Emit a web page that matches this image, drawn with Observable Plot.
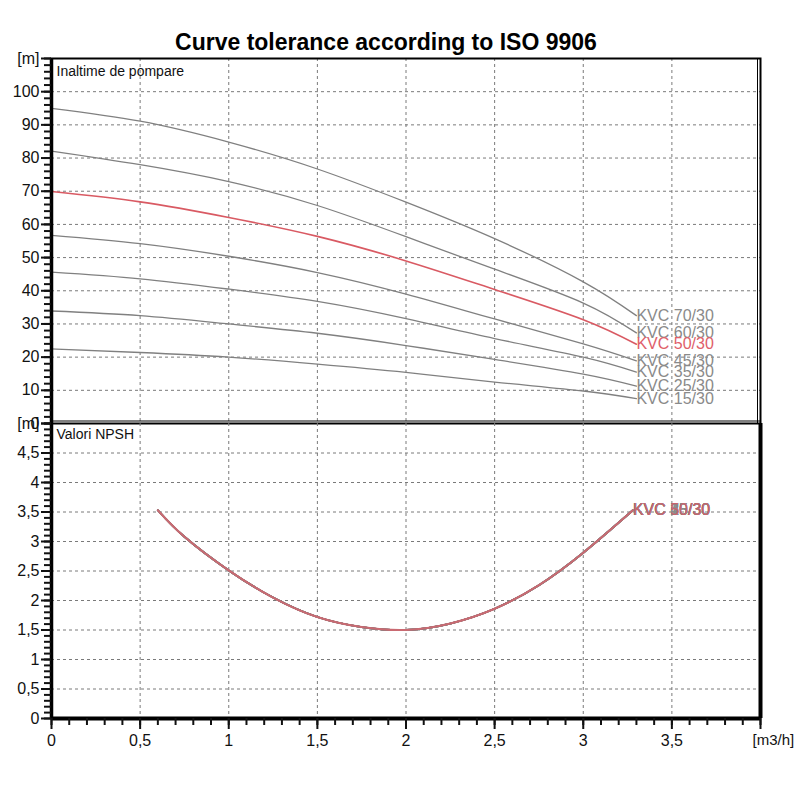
<!DOCTYPE html>
<html>
<head>
<meta charset="utf-8">
<script src="https://cdn.jsdelivr.net/npm/d3@7"></script>
<script src="https://cdn.jsdelivr.net/npm/@observablehq/plot@0.6"></script>
<style>
  body { margin: 0; background: white; }
  #wrap { position: relative; width: 800px; height: 800px; font-family: "Liberation Sans", Arial, sans-serif; }
  #title { position: absolute; top: 29px; left: 0; width: 772px; text-align: center; font-weight: bold; font-size: 23px; color: #000; }
  #top, #bot { position: absolute; left: 0; }
  #top { top: 0; }
  #bot { top: 410px; }
  svg { background: transparent !important; overflow: visible; }
</style>
</head>
<body>
<div id="wrap">
  <div id="title">Curve tolerance according to ISO 9906</div>
  <div id="top"></div>
  <div id="bot"></div>
</div>
<script>
// ---- data ----
const models = ["KVC 70/30", "KVC 60/30", "KVC 50/30", "KVC 45/30", "KVC 35/30", "KVC 25/30", "KVC 15/30"];
const highlight = "KVC 50/30";

const flowHead = [0, 0.5, 1, 1.5, 2, 2.5, 3, 3.3];
const head7030 = [95.0, 91.1, 84.8, 76.7, 66.7, 55.7, 42.7, 32.5];
const head6030 = [82.1, 78.0, 72.9, 65.7, 56.3, 46.5, 36.3, 27.3];
const head5030 = [69.9, 66.8, 62.1, 56.4, 49.0, 40.4, 31.3, 23.9];
const head4530 = [56.7, 54.2, 50.4, 45.5, 39.0, 31.5, 24.0, 18.9];
const head3530 = [45.6, 43.6, 40.5, 36.8, 31.6, 25.6, 20.0, 15.5];
const head2530 = [33.9, 32.5, 30.0, 27.2, 23.5, 19.3, 14.9, 11.3];
const head1530 = [22.5, 21.4, 20.0, 17.9, 15.4, 12.5, 9.8, 7.5];
const heads = [head7030, head6030, head5030, head4530, head3530, head2530, head1530];

const flowNpsh = [0.6, 0.75, 1, 1.25, 1.5, 1.75, 2, 2.25, 2.5, 2.75, 3, 3.28];
const npshValues = [3.53, 3.08, 2.51, 2.05, 1.72, 1.55, 1.50, 1.61, 1.86, 2.26, 2.81, 3.53];

const xMajor = [0, 0.5, 1, 1.5, 2, 2.5, 3, 3.5, 4];
const xGrid = [0.5, 1, 1.5, 2, 2.5, 3, 3.5];
const xMinor = d3.range(0, 40.5, 1).map(d => d / 10);
const xTickLabels = ["0", "0,5", "1", "1,5", "2", "2,5", "3", "3,5", ""];
const xUnit = "[m3/h]";

const yTopMajor = [0, 10, 20, 30, 40, 50, 60, 70, 80, 90, 100, 110];
const yTopGrid = [10, 20, 30, 40, 50, 60, 70, 80, 90, 100];
const yTopMinor = d3.range(0, 111, 2);
const yTopLabels = ["0", "10", "20", "30", "40", "50", "60", "70", "80", "90", "100", "[m]"];

const yBotMajor = [0, 0.5, 1, 1.5, 2, 2.5, 3, 3.5, 4, 4.5, 5];
const yBotGrid = [0.5, 1, 1.5, 2, 2.5, 3, 3.5, 4, 4.5];
const yBotMinor = d3.range(0, 51, 1).map(d => d / 10);
const yBotLabels = ["0", "0,5", "1", "1,5", "2", "2,5", "3", "3,5", "4", "4,5", "[m]"];

const topTitle = "Inaltime de pompare";
const botTitle = "Valori NPSH";

// ---- styles ----
const grayLine = "#808080";
const redLine = "#d95a63";
const grayText = "#8a8a8a";
const redText = "#e0606a";
const npshLine = "#c96a72";
const npshRedText = "#c9646d";
const gridColor = "#7a7a7a";
const font = "Liberation Sans, Arial, sans-serif";

// ---- tables ----
const headRows = [];
models.forEach((m, i) => flowHead.forEach((q, j) => headRows.push({model: m, q, h: heads[i][j]})));
const headEnds = models.map((m, i) => ({model: m, q: flowHead[flowHead.length - 1], h: heads[i][heads[i].length - 1]}));

const npshRows = [];
models.forEach(m => flowNpsh.forEach((q, j) => npshRows.push({model: m, q, h: npshValues[j]})));
const npshEnds = models.map(m => ({model: m, q: flowNpsh[flowNpsh.length - 1], h: npshValues[npshValues.length - 1]}));
const order = (a, b) => (a.model === highlight) - (b.model === highlight);
npshEnds.sort(order);
headEnds.sort(order);

const topLabelMap = new Map(yTopMajor.map((v, i) => [v, yTopLabels[i]]));
const botLabelMap = new Map(yBotMajor.map((v, i) => [v, yBotLabels[i]]));
const xLabelMap = new Map(xMajor.map((v, i) => [v, xTickLabels[i]]));

// ---- top panel ----
const topPlot = Plot.plot({
  width: 800, height: 430,
  marginLeft: 51, marginRight: 40, marginTop: 58, marginBottom: 7,
  style: {fontFamily: font, fontSize: "16px", color: "#111", background: "transparent"},
  x: {domain: [0, 4], axis: null},
  y: {domain: [0, 110], axis: null},
  marks: [
    Plot.gridX(xGrid, {stroke: gridColor, strokeOpacity: 1, strokeDasharray: "3,3"}),
    Plot.gridY(yTopGrid, {stroke: gridColor, strokeOpacity: 1, strokeDasharray: "3,3"}),
    Plot.line(headRows.filter(d => d.model !== highlight), {x: "q", y: "h", z: "model", stroke: grayLine, strokeWidth: 1.3, curve: "natural"}),
    Plot.line(headRows.filter(d => d.model === highlight), {x: "q", y: "h", z: "model", stroke: redLine, strokeWidth: 1.6, curve: "natural"}),
    Plot.text(headEnds, {x: "q", y: "h", text: "model", textAnchor: "start", fill: d => d.model === highlight ? redText : grayText, fontSize: 16}),
    Plot.text([topTitle], {frameAnchor: "top-left", dx: 5, dy: 8, textAnchor: "start", lineAnchor: "top", fontSize: 14, fill: "#111"}),
    Plot.frame({stroke: "black", strokeWidth: 2}),
    Plot.ruleX([4], {dx: -3, stroke: "black", strokeWidth: 1}),
    Plot.ruleY([0], {dy: -2.5, stroke: "black", strokeWidth: 1}),
    Plot.ruleX([0], {stroke: "black", strokeWidth: 3.5}),
    Plot.axisY(yTopMinor, {anchor: "left", tickSize: 7, strokeWidth: 2, tickFormat: () => "", label: null}),
    Plot.axisY(yTopMajor, {anchor: "left", tickSize: 10, tickPadding: 2, strokeWidth: 2, tickFormat: d => topLabelMap.get(d), label: null, fontSize: 16})
  ]
});
document.getElementById("top").appendChild(topPlot);

// ---- bottom panel ----
const botPlot = Plot.plot({
  width: 800, height: 390,
  marginLeft: 51, marginRight: 40, marginTop: 13, marginBottom: 82,
  style: {fontFamily: font, fontSize: "16px", color: "#111", background: "transparent"},
  x: {domain: [0, 4], axis: null},
  y: {domain: [0, 5], axis: null},
  marks: [
    Plot.gridX(xGrid, {stroke: gridColor, strokeOpacity: 1, strokeDasharray: "3,3"}),
    Plot.gridY(yBotGrid, {stroke: gridColor, strokeOpacity: 1, strokeDasharray: "3,3"}),
    Plot.line(npshRows.filter(d => d.model !== highlight), {x: "q", y: "h", z: "model", stroke: grayLine, strokeWidth: 1.8, curve: "natural"}),
    Plot.line(npshRows.filter(d => d.model === highlight), {x: "q", y: "h", stroke: npshLine, strokeWidth: 2, curve: "natural"}),
    Plot.text(npshEnds, {x: "q", y: "h", text: "model", textAnchor: "start", fill: d => d.model === highlight ? npshRedText : grayText, fontSize: 16}),
    Plot.text([botTitle], {frameAnchor: "top-left", dx: 5, dy: 6, textAnchor: "start", lineAnchor: "top", fontSize: 14, fill: "#111"}),
    Plot.ruleX([4], {stroke: "black", strokeWidth: 4}),
    Plot.ruleY([0], {stroke: "black", strokeWidth: 4}),
    Plot.ruleX([0], {stroke: "black", strokeWidth: 3.5}),
    Plot.axisY(yBotMinor, {anchor: "left", tickSize: 7, strokeWidth: 2, tickFormat: () => "", label: null}),
    Plot.axisY(yBotMajor, {anchor: "left", tickSize: 10, tickPadding: 2, strokeWidth: 2, tickFormat: d => botLabelMap.get(d), label: null, fontSize: 16}),
    Plot.axisX(xMinor, {anchor: "bottom", tickSize: 7, strokeWidth: 2, tickFormat: () => "", label: null}),
    Plot.axisX(xMajor, {anchor: "bottom", tickSize: 11, tickPadding: 5, strokeWidth: 2, tickFormat: d => xLabelMap.get(d), label: null, fontSize: 16}),
    Plot.text([xUnit], {x: [4], frameAnchor: "bottom", dy: 26, dx: -8, textAnchor: "start", fontSize: 15, fill: "#111"})
  ]
});
document.getElementById("bot").appendChild(botPlot);
</script>
</body>
</html>
